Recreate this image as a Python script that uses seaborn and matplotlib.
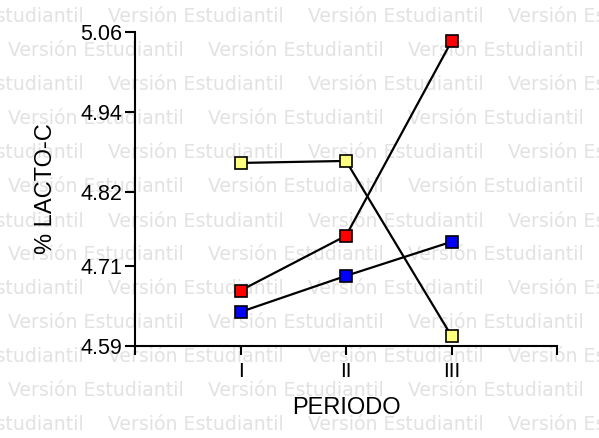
import matplotlib
matplotlib.use("Agg")
import matplotlib.pyplot as plt
import seaborn as sns
import pandas as pd

# ---- data ----
periods = ["I", "II", "III"]
period_pos = [1, 2, 3]
red_vals = [4.673, 4.755, 5.046]
blue_vals = [4.641, 4.695, 4.746]
yellow_vals = [4.864, 4.867, 4.605]
y_ticks = [4.59, 4.71, 4.82, 4.94, 5.06]
y_tick_labels = ["4.59", "4.71", "4.82", "4.94", "5.06"]
x_label = "PERIODO"
y_label = "% LACTO-C"
watermark = "Versión Estudiantil"

sns.set_style("white")
plt.rcParams["font.family"] = ["Liberation Sans", "DejaVu Sans"]
plt.rcParams["text.color"] = "black"
plt.rcParams["axes.labelcolor"] = "black"

fig = plt.figure(figsize=(5.99, 4.38), dpi=100)
fig.patch.set_facecolor("white")

# watermark (behind the axes)
W, H = 599, 438
row_ys = [17 + 34 * i for i in range(13)]
for r, yy in enumerate(row_ys):
    offset = -92 if r % 2 == 0 else 8
    for k in range(5):
        xx = offset + 200 * k
        if xx > W:
            continue
        fig.text(xx / W, 1 - yy / H, watermark, fontsize=13.6, color="#e2e2e2",
                 family="DejaVu Sans", ha="left", va="center", zorder=-5)

ax = fig.add_axes([135 / W, 1 - 346 / H, 422 / W, 314 / H])
ax.patch.set_alpha(0)

df = pd.DataFrame({"pos": period_pos, "red": red_vals, "blue": blue_vals,
                   "yellow": yellow_vals})
colors = {"yellow": "#ffff80", "red": "#ff0000", "blue": "#0000ff"}
for name in ["yellow", "red", "blue"]:
    sns.lineplot(data=df, x="pos", y=name, ax=ax, color="black", linewidth=1.6,
                 marker="s", markersize=8, markerfacecolor=colors[name],
                 markeredgecolor="black", markeredgewidth=1.2, zorder=3)

ax.set_xlim(0, 4)
ax.set_ylim(4.59, 5.06)
ax.set_xticks([0] + period_pos + [4])
ax.set_xticklabels([""] + periods + [""], fontsize=15)
ax.set_yticks(y_ticks)
ax.set_yticklabels(y_tick_labels, fontsize=15.5)
for s in ["top", "right"]:
    ax.spines[s].set_visible(False)
for s in ["left", "bottom"]:
    ax.spines[s].set_linewidth(1.5)
    ax.spines[s].set_color("black")
ax.tick_params(axis="x", direction="out", length=6.5, width=1.5, pad=5,
               bottom=True, colors="black")
ax.tick_params(axis="y", direction="out", length=7, width=1.5, pad=2,
               left=True, colors="black")
ax.set_xlabel(x_label, fontsize=17, color="black")
ax.set_ylabel(y_label, fontsize=17, color="black")
ax.yaxis.set_label_coords(-0.185, 0.5)
ax.xaxis.set_label_coords(0.5, -0.162)

fig.savefig("out.png", dpi=100, facecolor="white")
